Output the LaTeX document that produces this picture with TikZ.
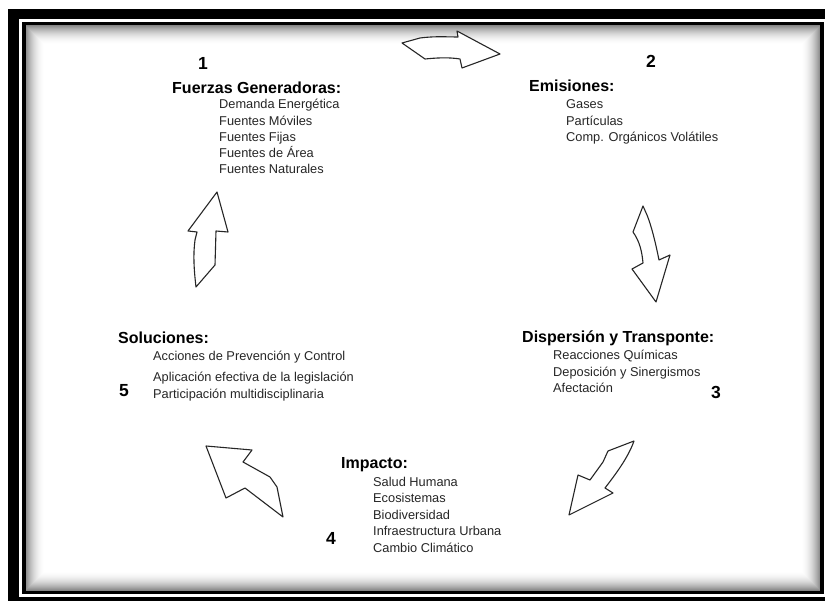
\documentclass[tikz,border=0pt]{standalone}
\usepackage{fontspec}
\setmainfont{Liberation Sans}
\begin{document}
\begin{tikzpicture}[x=1pt,y=-1pt,
  blockarrow/.style={draw=black!85,fill=white,line width=1.1pt,line join=round},
  head/.style={font=\bfseries\fontsize{16}{19}\selectfont,anchor=base west,inner sep=0pt},
  item/.style={font=\fontsize{12.8}{16}\selectfont,anchor=base west,inner sep=0pt,text=black!85},
  num/.style={font=\bfseries\fontsize{17.5}{20}\selectfont,anchor=base,inner sep=0pt}]
\useasboundingbox (0,0) rectangle (825,601);
\clip (0,0) rectangle (825,601);
% frame
\fill[white] (0,0) rectangle (825,601);
\fill[black] (8,9) rectangle (840,615);
\fill[white] (19,19) rectangle (826,597);
\foreach \i in {0,...,20}{
  \pgfmathsetmacro{\g}{48*(1-\i/20)^2}
  \draw[black!\g,line width=1.2pt] (25.5+\i,25.5+\i) rectangle (820.5-\i,590.5-\i);
}
\fill[white] (46,46) rectangle (800,570);
\draw[black,line width=3.5pt] (23.75,23.75) rectangle (821.75,592.25);
% arrows
\draw[blockarrow] (402,43) -- (420,38) .. controls (435,36) and (448,37) .. (458,37)
  -- (457,31) -- (500,54) -- (462,68) -- (460,59) .. controls (448,57) and (435,58) .. (425,59) -- cycle;
\draw[blockarrow] (643,206) -- (633,232) .. controls (640,242) and (642,252) .. (643,263)
  -- (632,269) -- (656,302) -- (670,255) -- (659,260) .. controls (655,240) and (651,225) .. (647,215) -- cycle;
\draw[blockarrow] (634,441) -- (608,451) -- (603,462) -- (590,480) -- (578,475) -- (569,515)
  -- (613,493) -- (605,488) .. controls (615,475) and (628,458) .. cycle;
\draw[blockarrow] (206,446) -- (252,450) -- (243,462) -- (270,477) -- (277,487) -- (283,517)
  -- (245,488) -- (226,498) -- cycle;
\draw[blockarrow] (217,192) -- (228,232) -- (216,231) -- (215,265) -- (196,287)
  .. controls (194,270) and (193,255) .. (195,240) -- (197,232) -- (188,231) -- cycle;
% block 1
\node[num] (n1) at (203,70) {1};
\node[head] (h1) at (172,94) {Fuerzas Generadoras:};
\foreach \t [count=\i] in {Demanda Energética,Fuentes Móviles,Fuentes Fijas,Fuentes de Área,Fuentes Naturales}
  \node[item] (a\i) at (219,{109+16.1*(\i-1)}) {\t};
% block 2
\node[num] (n2) at (651,68) {2};
\node[head] (h2) at (529,92) {Emisiones:};
\foreach \t [count=\i] in {Gases,Partículas,Comp. Orgánicos Volátiles}
  \node[item] (b\i) at (566,{109+16.1*(\i-1)}) {\t};
% block 3
\node[head] (h3) at (522,343) {Dispersión y Transponte:};
\foreach \t [count=\i] in {Reacciones Químicas,Deposición y Sinergismos,Afectación}
  \node[item] (c\i) at (553,{360+16.5*(\i-1)}) {\t};
\node[num] (n3) at (716,399) {3};
% block 4
\node[head] (h4) at (341,469) {Impacto:};
\foreach \t [count=\i] in {Salud Humana,Ecosistemas,Biodiversidad,Infraestructura Urbana,Cambio Climático}
  \node[item] (d\i) at (373,{486+16.5*(\i-1)}) {\t};
\node[num] (n4) at (331,544) {4};
% block 5
\node[head] (h5) at (118,344) {Soluciones:};
\node[item] (e1) at (153,361) {Acciones de Prevención y Control};
\node[item] (e2) at (153,382) {Aplicación efectiva de la legislación};
\node[item] (e3) at (153,399) {Participación multidisciplinaria};
\node[num] (n5) at (124,397) {5};
\end{tikzpicture}
\end{document}
